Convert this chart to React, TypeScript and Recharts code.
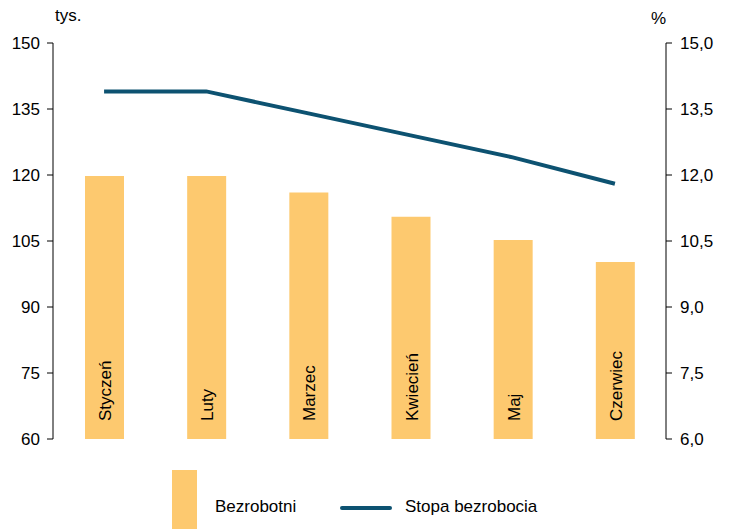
import React from 'react';
import {
  ComposedChart,
  Bar,
  Line,
  XAxis,
  YAxis,
  LabelList,
} from 'recharts';

const MONTHS = ['Styczeń', 'Luty', 'Marzec', 'Kwiecień', 'Maj', 'Czerwiec'];
// unemployed, thousands (left axis)
const UNEMPLOYED = [119.8, 119.8, 116.0, 110.5, 105.2, 100.2];
// unemployment rate, % (right axis)
const RATE = [13.9, 13.9, 13.4, 12.9, 12.4, 11.8];

const LEFT_TICKS = [60, 75, 90, 105, 120, 135, 150];
const RIGHT_TICKS = [6, 7.5, 9, 10.5, 12, 13.5, 15];

const BAR_COLOR = '#FDC96F';
const LINE_COLOR = '#0D5271';
const FONT = '"Liberation Sans", Arial, sans-serif';
const FS = 17;

const data = MONTHS.map((month, i) => ({
  month,
  unemployed: UNEMPLOYED[i],
  rate: RATE[i],
}));

const fmtRate = (v: number) => v.toFixed(1).replace('.', ',');

function MonthLabel(props: any) {
  const { x, y, width, height, value } = props;
  const cx = x + width / 2 + 1;
  const by = y + height - 18;
  return (
    <text
      x={cx}
      y={by}
      transform={`rotate(-90 ${cx} ${by})`}
      textAnchor="start"
      dominantBaseline="central"
      fontSize={FS}
      fontFamily={FONT}
      fill="#000"
    >
      {value}
    </text>
  );
}

export default function App() {
  return (
    <div
      style={{
        position: 'absolute',
        left: 0,
        top: 0,
        width: 731,
        height: 529,
        background: '#fff',
        fontFamily: FONT,
        overflow: 'hidden',
      }}
    >
      <ComposedChart
        width={731}
        height={529}
        data={data}
        margin={{ top: 43, right: 15, bottom: 90, left: 8 }}
        barCategoryGap="30%"
      >
        <XAxis
          dataKey="month"
          tick={false}
          tickLine={false}
          height={0}
          axisLine={{ stroke: '#808080', strokeWidth: 2 }}
        />
        <YAxis
          yAxisId="left"
          width={45}
          domain={[60, 150]}
          ticks={LEFT_TICKS}
          interval={0}
          tickSize={6}
          tickMargin={7}
          axisLine={{ stroke: '#000' }}
          tickLine={{ stroke: '#000' }}
          tick={{ fill: '#000', fontSize: FS, fontFamily: FONT }}
        />
        <YAxis
          yAxisId="right"
          orientation="right"
          width={50}
          domain={[6, 15]}
          ticks={RIGHT_TICKS}
          interval={0}
          tickSize={6}
          tickMargin={8}
          tickFormatter={fmtRate}
          axisLine={{ stroke: '#000' }}
          tickLine={{ stroke: '#000' }}
          tick={{ fill: '#000', fontSize: FS, fontFamily: FONT }}
        />
        <Bar
          yAxisId="left"
          dataKey="unemployed"
          fill={BAR_COLOR}
          barSize={39}
          isAnimationActive={false}
        >
          <LabelList dataKey="month" content={MonthLabel} />
        </Bar>
        <Line
          yAxisId="right"
          dataKey="rate"
          stroke={LINE_COLOR}
          strokeWidth={4}
          dot={false}
          activeDot={false}
          type="linear"
          isAnimationActive={false}
        />
      </ComposedChart>

      {/* unit labels */}
      <div style={{ position: 'absolute', left: 55, top: 6, fontSize: FS }}>tys.</div>
      <div style={{ position: 'absolute', left: 651, top: 9, fontSize: FS }}>%</div>

      {/* Legend */}
      <div
        style={{
          position: 'absolute',
          left: 172,
          top: 470,
          width: 25,
          height: 60,
          background: BAR_COLOR,
        }}
      />
      <div style={{ position: 'absolute', left: 215, top: 497, fontSize: FS }}>Bezrobotni</div>
      <div
        style={{
          position: 'absolute',
          left: 340,
          top: 506,
          width: 52,
          height: 4,
          borderRadius: 2,
          background: LINE_COLOR,
        }}
      />
      <div style={{ position: 'absolute', left: 405, top: 497, fontSize: FS }}>Stopa bezrobocia</div>
    </div>
  );
}
